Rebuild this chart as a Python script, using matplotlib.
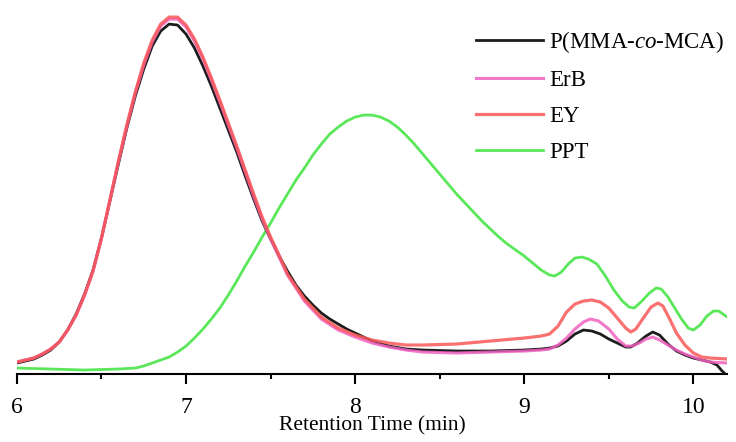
import matplotlib
matplotlib.use("Agg")
import matplotlib.pyplot as plt
from matplotlib.ticker import MultipleLocator

plt.rcParams['font.family'] = ['Liberation Serif', 'DejaVu Serif']
plt.rcParams['mathtext.fontset'] = 'custom'
plt.rcParams['mathtext.rm'] = 'Liberation Serif'
plt.rcParams['mathtext.it'] = 'Liberation Serif:italic'

# GPC traces, detector signal (a.u.) vs retention time (min)
t_copo = [6.00, 6.05, 6.10, 6.15, 6.20, 6.25, 6.30, 6.35, 6.40, 6.45, 6.50, 6.55, 6.60, 6.65,
          6.70, 6.75, 6.80, 6.85, 6.90, 6.95, 7.00, 7.05, 7.10, 7.15, 7.20, 7.25, 7.30, 7.35,
          7.40, 7.45, 7.50, 7.55, 7.60, 7.65, 7.70, 7.75, 7.80, 7.85, 7.90, 7.95, 8.00, 8.10,
          8.20, 8.30, 8.40, 8.60, 8.80, 9.00, 9.10, 9.15, 9.20, 9.25, 9.30, 9.35, 9.40, 9.45,
          9.50, 9.55, 9.60, 9.63, 9.67, 9.72, 9.76, 9.80, 9.85, 9.90, 9.95, 10.00, 10.05, 10.10,
          10.14, 10.17, 10.19]
s_copo = [11, 13, 15, 19, 24, 32, 44, 60, 80, 104, 136, 173, 210, 246,
          278, 305, 328, 343, 350, 349, 340, 326, 308, 288, 266, 244, 222, 198,
          175, 153, 135, 118, 103, 89, 78, 69, 61, 55, 50, 45, 41, 33,
          28, 25, 24, 23, 23, 24, 25, 26, 28, 33, 40, 44, 43, 40,
          35, 31, 27, 27, 31, 38, 42, 39, 30, 23, 19, 16, 14, 12,
          9, 3, 0]

t_erb = [6.00, 6.05, 6.10, 6.15, 6.20, 6.25, 6.30, 6.35, 6.40, 6.45, 6.50, 6.55, 6.60, 6.65,
         6.70, 6.75, 6.80, 6.85, 6.90, 6.95, 7.00, 7.05, 7.10, 7.15, 7.20, 7.25, 7.30, 7.35,
         7.40, 7.45, 7.50, 7.55, 7.60, 7.70, 7.80, 7.90, 8.00, 8.10, 8.20, 8.30, 8.40, 8.60,
         8.80, 9.00, 9.10, 9.15, 9.20, 9.25, 9.30, 9.35, 9.39, 9.44, 9.50, 9.55, 9.60, 9.64,
         9.68, 9.72, 9.76, 9.80, 9.85, 9.90, 9.95, 10.00, 10.05, 10.10, 10.20]
s_erb = [12, 14, 16, 20, 25, 32, 44, 59, 79, 103, 136, 174, 212, 248,
         281, 309, 332, 348, 355, 355, 347, 333, 315, 294, 272, 249, 226, 202,
         178, 155, 135, 117, 99, 73, 55, 44, 37, 31, 27, 24, 22, 21,
         22, 23, 24, 25, 29, 36, 45, 52, 55, 53, 45, 35, 28, 28,
         31, 35, 37, 34, 29, 24, 20, 17, 14, 12, 11]

t_ey = [6.00, 6.05, 6.10, 6.15, 6.20, 6.25, 6.30, 6.35, 6.40, 6.45, 6.50, 6.55, 6.60, 6.65,
        6.70, 6.75, 6.80, 6.85, 6.90, 6.95, 7.00, 7.05, 7.10, 7.15, 7.20, 7.25, 7.30, 7.35,
        7.40, 7.45, 7.50, 7.55, 7.60, 7.70, 7.80, 7.90, 8.00, 8.10, 8.20, 8.30, 8.40, 8.60,
        8.80, 9.00, 9.10, 9.15, 9.20, 9.25, 9.30, 9.35, 9.40, 9.45, 9.50, 9.55, 9.60, 9.63,
        9.66, 9.70, 9.75, 9.79, 9.82, 9.86, 9.90, 9.95, 10.00, 10.05, 10.10, 10.20]
s_ey = [12, 14, 16, 20, 25, 32, 44, 59, 79, 103, 136, 174, 213, 249,
        282, 311, 334, 350, 357, 357, 349, 335, 317, 296, 274, 251, 228, 204,
        180, 157, 137, 119, 100, 75, 57, 46, 39, 34, 31, 29, 29, 30,
        33, 36, 38, 40, 48, 62, 70, 73, 74, 72, 66, 56, 46, 42,
        45, 55, 67, 71, 68, 55, 41, 29, 21, 17, 16, 15]

t_ppt = [6.00, 6.20, 6.40, 6.60, 6.70, 6.75, 6.80, 6.85, 6.90, 6.95, 7.00, 7.05, 7.10, 7.15,
         7.20, 7.25, 7.30, 7.35, 7.40, 7.45, 7.50, 7.55, 7.60, 7.65, 7.70, 7.75, 7.80, 7.85,
         7.90, 7.95, 8.00, 8.05, 8.10, 8.15, 8.20, 8.25, 8.30, 8.35, 8.40, 8.45, 8.50, 8.55,
         8.60, 8.65, 8.70, 8.75, 8.80, 8.85, 8.90, 8.95, 9.00, 9.05, 9.10, 9.15, 9.18, 9.22,
         9.26, 9.30, 9.34, 9.38, 9.43, 9.48, 9.53, 9.58, 9.62, 9.65, 9.69, 9.74, 9.78, 9.81,
         9.85, 9.89, 9.93, 9.97, 10.00, 10.04, 10.08, 10.12, 10.15, 10.20]
s_ppt = [6, 5, 4, 5, 6, 8, 11, 14, 17, 22, 28, 36, 45, 55,
         66, 79, 93, 108, 122, 137, 151, 166, 180, 194, 206, 219, 230, 240,
         247, 253, 257, 259, 259, 257, 253, 247, 239, 230, 220, 210, 200, 190,
         180, 171, 162, 153, 145, 137, 130, 124, 118, 111, 104, 99, 98, 102,
         110, 116, 117, 115, 110, 98, 84, 73, 67, 66, 72, 81, 86, 85,
         77, 66, 55, 46, 44, 49, 58, 63, 63, 57]

labels = ['P(MMA-$\\mathit{co}$-MCA)', 'ErB', 'EY', 'PPT']
colors = ['#1c1c1c', '#f060c0', '#f85858', '#5ae85a']

fig = plt.figure(figsize=(7.36, 4.42), dpi=100)
ax = fig.add_axes([0.023, 0.1538, 0.965, 0.846])

ax.plot(t_copo, s_copo, color=colors[0], lw=2.0, label=labels[0], zorder=3)
ax.plot(t_erb, s_erb, color=colors[1], lw=2.2, alpha=0.85, label=labels[1], zorder=4)
ax.plot(t_ey, s_ey, color=colors[2], lw=2.3, alpha=0.85, label=labels[2], zorder=5)
ax.plot(t_ppt, s_ppt, color=colors[3], lw=2.0, label=labels[3], zorder=2)

ax.set_xlim(6, 10.2)
ax.set_ylim(0, 374)
ax.xaxis.set_major_locator(MultipleLocator(1))
ax.xaxis.set_minor_locator(MultipleLocator(0.5))
ax.tick_params(axis='x', which='major', direction='out', length=7.2, width=1.5,
               labelsize=17, pad=9)
ax.tick_params(axis='x', which='minor', direction='out', length=3.6, width=1.5)
ax.set_yticks([])
for side in ['left', 'top', 'right']:
    ax.spines[side].set_visible(False)
ax.spines['bottom'].set_linewidth(1.5)
ax.set_xlabel('Retention Time (min)', fontsize=15.5, labelpad=-1)

fig.legend(loc='upper left', bbox_to_anchor=(0.647, 0.935), frameon=False,
           fontsize=16.5, handlelength=2.9, handletextpad=0.28, labelspacing=0.66,
           borderpad=0, borderaxespad=0)

fig.savefig('out.png', dpi=100)
